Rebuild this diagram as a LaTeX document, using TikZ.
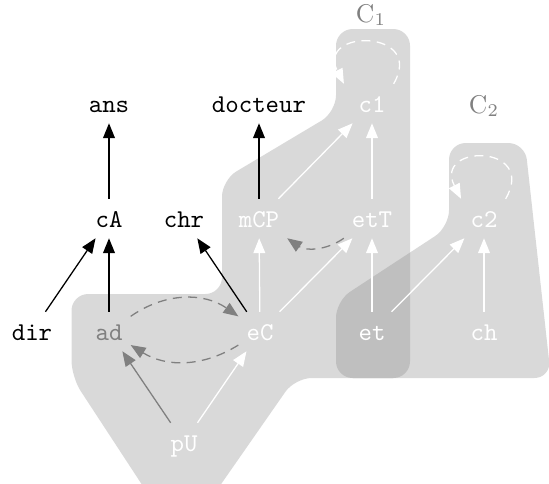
\documentclass[tikz,border=0pt]{standalone}
\usetikzlibrary{arrows.meta}
\begin{document}
\begin{tikzpicture}[x=0.39pt,y=-0.39pt,
  nd/.style={font=\ttfamily, text height=8pt, text depth=1pt, inner sep=3pt},
  wn/.style={nd, text=white},
  tipd/.style={-{Triangle[length=5.8pt,width=4.6pt]}},
  blk/.style={tipd, draw=black, line width=0.5pt},
  wht/.style={tipd, draw=white, fill=white, line width=0.5pt},
  gry/.style={tipd, draw=gray, fill=gray, line width=0.5pt},
  dsh/.style={tipd, draw=gray, line width=0.5pt, dash pattern=on 3.5pt off 2.5pt},
  wdsh/.style={tipd, draw=white, line width=0.5pt, dash pattern=on 3.5pt off 2.5pt},
  blobfill/.style={fill=black!15},
  overlapfill/.style={fill=black!25},
  lbl/.style={text=gray, inner sep=0pt}
]
\useasboundingbox (0,0) rectangle (549,483);
% blob A
\fill[blobfill, rounded corners=6.5pt] (336,29) -- (410,29) -- (410,378) -- (295,378) -- (210,500) -- (152,500) -- (71.5,377) -- (71.5,294) -- (222,294) -- (222,180) -- (336,112) -- cycle;
% blob B
\fill[blobfill, rounded corners=6.5pt] (449,143) -- (525,143) -- (551,378) -- (336,378) -- (336,301) -- (449,227) -- cycle;
% overlap
\begin{scope}
\clip[rounded corners=6.5pt] (336,29) -- (410,29) -- (410,378) -- (295,378) -- (210,500) -- (152,500) -- (71.5,377) -- (71.5,294) -- (222,294) -- (222,180) -- (336,112) -- cycle;
\fill[overlapfill, rounded corners=6.5pt] (449,143) -- (525,143) -- (551,378) -- (336,378) -- (336,301) -- (449,227) -- cycle;
\end{scope}

\node[lbl] (C1) at (371,15) {C$_1$};
\node[lbl] (C2) at (484,106) {C$_2$};

\node[nd] (ans) at (109,103.5) {ans};
\node[nd] (doc) at (259,103.5) {docteur};
\node[wn] (c1) at (372,103.5) {c1};
\node[nd] (cA) at (109,218.5) {cA};
\node[nd] (chr) at (184,218.5) {chr};
\node[wn] (mCP) at (259,218.5) {mCP};
\node[wn] (etT) at (372,218.5) {etT};
\node[wn] (c2) at (484,218.5) {c2};
\node[nd] (dir) at (32,331.5) {dir};
\node[nd, text=gray] (ad) at (109,331.5) {ad};
\node[wn] (eC) at (260,331.5) {eC};
\node[wn] (et) at (372,331.5) {et};
\node[wn] (ch) at (484,331.5) {ch};
\node[wn] (pU) at (184,442.5) {pU};

\draw[blk] (cA) -- (ans);
\draw[blk] (mCP) -- (doc);
\draw[blk] (dir) -- (cA);
\draw[blk] (ad) -- (cA);
\draw[blk] (eC) -- (chr);
\draw[wht] (mCP) -- (c1);
\draw[wht] (etT) -- (c1);
\draw[wht] (eC) -- (mCP);
\draw[wht] (eC) -- (etT);
\draw[wht] (et) -- (etT);
\draw[wht] (et) -- (c2);
\draw[wht] (ch) -- (c2);
\draw[gry] (pU) -- (ad);
\draw[wht] (pU) -- (eC);
\draw[dsh] (ad) to[bend left=35] (eC);
\draw[dsh] (eC) to[bend left=32] (ad);
\draw[dsh] (etT) to[bend left=35] (mCP);
\draw[wdsh] (c1.north east) .. controls +(12.5pt,21.5pt) and +(-11pt,21.5pt) .. ([xshift=-2.5pt]c1.north west);
\draw[wdsh] (c2.north east) .. controls +(12.5pt,21.5pt) and +(-11pt,21.5pt) .. ([xshift=-0.5pt]c2.north west);
\end{tikzpicture}
\end{document}
